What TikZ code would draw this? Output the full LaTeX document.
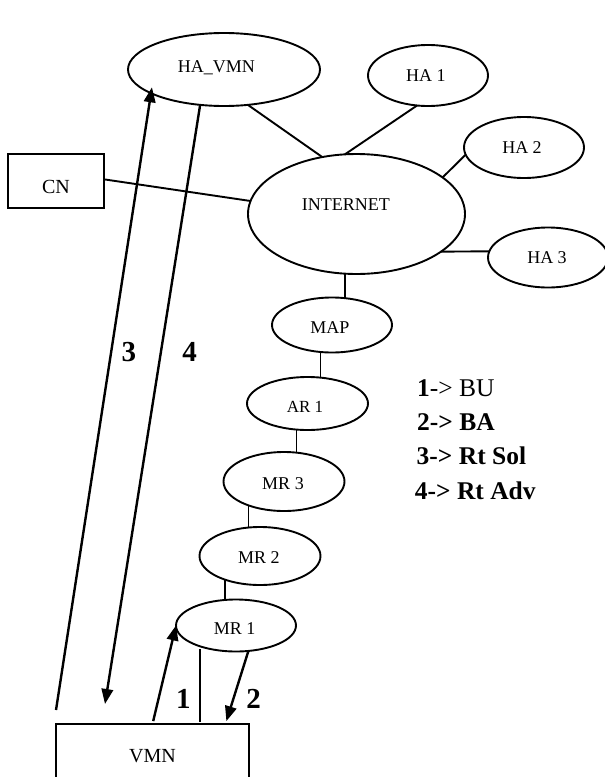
\documentclass[tikz,border=0pt]{standalone}
\usepackage{fontspec}
\setmainfont{Liberation Serif}
\usetikzlibrary{shapes.geometric,arrows.meta,calc}
\begin{document}
\begin{tikzpicture}[x=1pt,y=-1pt,
  ell/.style={ellipse, draw, line width=1.9pt, inner sep=0pt, outer sep=0pt},
  boxn/.style={rectangle, draw, line width=1.7pt, inner sep=0pt, outer sep=0pt},
  lab/.style={font=\fontsize{18}{18}\selectfont, inner sep=0pt, text height=11.9pt, text depth=0pt},
  blab/.style={font=\fontsize{20}{20}\selectfont, inner sep=0pt, text height=13.2pt, text depth=0pt},
  conn/.style={line width=1.9pt},
  chain/.style={line width=1.5pt},
  arr/.style={line width=2.4pt, -{Triangle[length=15pt,width=11.5pt]}},
  num/.style={font=\bfseries\fontsize{29}{29}\selectfont, inner sep=0pt, text height=19.6pt, text depth=0pt},
  leg/.style={font=\fontsize{25.5}{30}\selectfont, inner sep=0pt, anchor=base west}]
\useasboundingbox (0,0) rectangle (605,777);
\fill[white] (0,0) rectangle (605,777);

% nodes
\node[ell, minimum width=192pt, minimum height=73pt,
  label={[lab, name=havmnt, xshift=-7.7pt, yshift=2.8pt]center:HA\_VMN}] (havmn) at (224,69.5) {};
\node[ell, minimum width=120pt, minimum height=61pt,
  label={[lab, name=ha1t, xshift=-2.2pt]center:HA 1}] (ha1) at (428,75.5) {};
\node[ell, minimum width=120pt, minimum height=61pt,
  label={[lab, name=ha2t, xshift=-2pt]center:HA 2}] (ha2) at (524,147.5) {};
\node[ell, minimum width=217pt, minimum height=120pt,
  label={[lab, name=inett, xshift=-10.7pt, yshift=9pt]center:INTERNET}] (inet) at (356.5,214) {};
\node[ell, minimum width=120pt, minimum height=60pt,
  label={[lab, name=ha3t, xshift=-1pt]center:HA 3}] (ha3) at (548,257.5) {};
\node[ell, minimum width=120pt, minimum height=55pt,
  label={[lab, name=mapt, xshift=-2pt, yshift=-2.7pt]center:MAP}] (map) at (332,325) {};
\node[ell, minimum width=121pt, minimum height=53pt,
  label={[lab, name=ar1t, xshift=-2.5pt, yshift=-2.7pt, font=\fontsize{17}{17}\selectfont]center:AR 1}] (ar1) at (307.5,403.5) {};
\node[ell, minimum width=121pt, minimum height=59pt,
  label={[lab, name=mr3t, xshift=-1pt, yshift=-2.5pt]center:MR 3}] (mr3) at (284,481.5) {};
\node[ell, minimum width=121pt, minimum height=58pt,
  label={[lab, name=mr2t, xshift=-1.2pt, yshift=-2pt]center:MR 2}] (mr2) at (260,556) {};
\node[ell, minimum width=120pt, minimum height=52pt,
  label={[lab, name=mr1t, xshift=-1.3pt, yshift=-3.5pt]center:MR 1}] (mr1) at (236,625.5) {};
\node[boxn, minimum width=96pt, minimum height=54pt,
  label={[blab, name=cnt, yshift=-5.7pt]center:CN}] (cn) at (56,181) {};
\node[boxn, minimum width=193pt, minimum height=56pt,
  label={[blab, name=vmnt, yshift=-3.7pt]center:VMN}] (vmn) at (152.5,752) {};

% plain connectors
\draw[conn] (havmn.-56.7) -- (inet.121.3);
\draw[conn] (ha1.-110.9) -- (inet.101.1);
\draw[conn] (ha2.-173.7) -- (inet.23.4);
\draw[conn] (inet.-24) -- (ha3.174.8);
\draw[conn] (cn.2.4) -- (inet.173.7);

\draw[chain] (inet.-101.5) -- (inet.-101.5 |- map.north);
\draw[chain] (map.-113.4) -- (map.-113.4 |- ar1.north);
\draw[chain] (ar1.-113.5) -- (ar1.-113.5 |- mr3.north);
\draw[chain] (mr3.-146.3) -- (mr3.-146.3 |- mr2.north);
\draw[chain] (mr2.-146.8) -- (mr2.-146.8 |- mr1.north);
\draw[chain, shorten <=3pt, shorten >=2pt] (mr1.-150) -- (mr1.-150 |- vmn.north);

% message arrows
\coordinate (a3s) at (56,710);
\coordinate (a4e) at (105,704);
\draw[arr, shorten >=-6pt] (a3s) -- (havmn.-162.2);
\draw[arr] (havmn.-124.2) -- (a4e);
\draw[arr, shorten <=3pt] (vmn.north) -- (mr1.west);
\draw[arr, shorten >=3pt] (mr1.-64.2) -- (vmn.21.1);

% arrow numbers
\node[num] (n3) at (128.8,351.5) {3};
\node[num] (n4) at (189.7,352) {4};
\node[num] (n1) at (183.3,699) {1};
\node[num] (n2) at (253.7,698.7) {2};

% legend
\node[leg] (leg1) at (417,396.3) {\textbf{1}-> BU};
\node[leg] (leg2) at (417,430.7) {\textbf{2-> BA}};
\node[leg] (leg3) at (416.5,464.7) {\textbf{3-> Rt Sol}};
\node[leg] (leg4) at (414.7,499.7) {\textbf{4-> Rt Adv}};
\end{tikzpicture}
\end{document}
